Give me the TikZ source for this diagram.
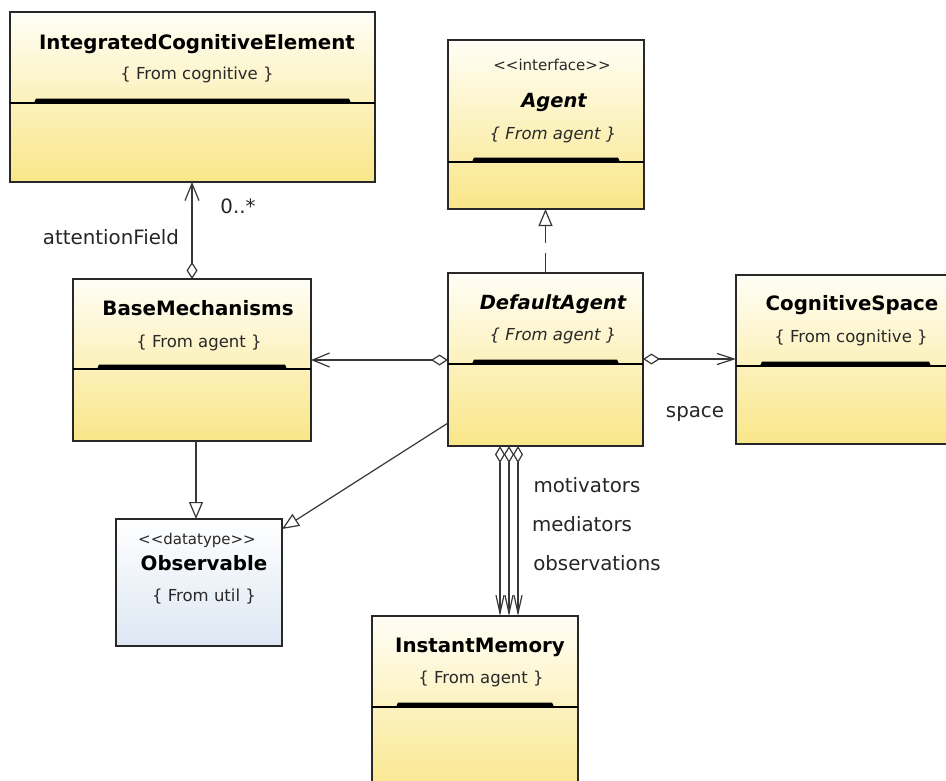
\documentclass[tikz,border=0pt]{standalone}
\usepackage{fontspec}
\newfontfamily\umlfont{DejaVu Sans}
\usetikzlibrary{arrows.meta}

\definecolor{umltop}{RGB}{255,254,246}
\definecolor{umlbot}{RGB}{249,230,136}
\definecolor{obsbot}{RGB}{221,231,243}
\definecolor{boxline}{RGB}{40,40,40}
\definecolor{linkline}{RGB}{55,55,55}
\definecolor{subtext}{RGB}{40,40,40}

% class box: name, left, top, right, bottom, separator y (or none), fill style
\newcommand\umlclass[7]{%
  \node[#7, minimum width={#4pt-#2pt}, minimum height={#5pt-#3pt}] (#1) at (#2,#3) {};
  \if\relax\detokenize{#6}\relax\else
    \fill[black] ({#2+24},#6) -- ({#2+26},{#6-4.5}) -- ({#4-26},{#6-4.5}) -- ({#4-24},#6) -- cycle;
    \draw[sepline] (#1.west |- 0,#6) -- (#1.east |- 0,#6);
  \fi
}

\begin{document}
\begin{tikzpicture}[x=1pt,y=-1pt,
  classbox/.style={draw=boxline,line width=1.4pt,inner sep=0pt,outer sep=0pt,anchor=north west},
  yellowclass/.style={classbox,top color=umltop,bottom color=umlbot},
  blueclass/.style={classbox,top color=white,bottom color=obsbot},
  sepline/.style={line width=2pt,black},
  txt/.style={inner sep=0pt,anchor=center,text height=0.72em,text depth=0pt,yshift=-3.5pt},
  title/.style={txt,text=black,font=\umlfont\bfseries\fontsize{19.8}{22}\selectfont},
  ititle/.style={txt,text=black,font=\umlfont\bfseries\itshape\fontsize{19.5}{22}\selectfont},
  subtitle/.style={txt,text=subtext,font=\umlfont\fontsize{16.5}{19}\selectfont},
  isubtitle/.style={txt,text=subtext,font=\umlfont\itshape\fontsize{16.5}{19}\selectfont},
  stereo/.style={txt,text=subtext,font=\umlfont\fontsize{15}{17}\selectfont},
  lbl/.style={txt,text=black!85,font=\umlfont\fontsize{19.8}{22}\selectfont},
  link/.style={draw=linkline,line width=1.2pt},
  aggr/.style={link,{Diamond[open,fill=white,length=17pt,width=11pt]}-{Straight Barb[length=17pt,width=14pt]}},
  aggrnarrow/.style={link,{Diamond[open,fill=white,length=17pt,width=11pt]}-{Straight Barb[length=17pt,width=11pt]}},
  aggrdown/.style={link,{Diamond[open,fill=white,length=17pt,width=10pt]}-{Straight Barb[length=18pt,width=8pt]}},
  gen/.style={link,-{Triangle[open,fill=white,length=17pt,width=14pt]}},
  realize/.style={gen,dash pattern=on 20pt off 10pt}
]
\useasboundingbox (0,0) rectangle (946,780);
\fill[white] (0,0) rectangle (946,780);

% classes
\umlclass{ice}{10}{12}{375}{182}{103}{yellowclass}
\umlclass{agent}{448}{40}{644}{209}{162}{yellowclass}
\umlclass{da}{448}{273}{643}{446}{364}{yellowclass}
\umlclass{bm}{73}{279}{311}{441}{369}{yellowclass}
\umlclass{cs}{736}{275}{955}{444}{366}{yellowclass}
\umlclass{im}{372}{616}{578}{800}{707}{yellowclass}
\umlclass{obs}{116}{519}{282}{646}{}{blueclass}

% class texts
\node[title] (iceT) at (197,42) {IntegratedCognitiveElement};
\node[subtitle] (iceS) at (197,72) {\{ From cognitive \}};

\node[stereo] (agentK) at (552,63) {<<interface>>};
\node[ititle] (agentT) at (554,100) {Agent};
\node[isubtitle] (agentS) at (553,132) {\{ From agent \}};

\node[ititle] (daT) at (553,302) {DefaultAgent};
\node[isubtitle] (daS) at (553,333) {\{ From agent \}};

\node[title] (bmT) at (198,308) {BaseMechanisms};
\node[subtitle] (bmS) at (199,340) {\{ From agent \}};

\node[title] (csT) at (852,303) {CognitiveSpace};
\node[subtitle] (csS) at (851,335) {\{ From cognitive \}};

\node[stereo] (obsK) at (197,537) {<<datatype>>};
\node[title] (obsT) at (204,563) {Observable};
\node[subtitle] (obsS) at (204,594) {\{ From util \}};

\node[title] (imT) at (480,645) {InstantMemory};
\node[subtitle] (imS) at (481,676) {\{ From agent \}};

% relations
\draw[aggr] (bm.north) -- (ice.south -| bm.north);
\draw[realize] (da.north) -- (agent.south -| da.north);
\draw[aggr] (da.west |- 0,360) -- (bm.east |- 0,360);
\draw[aggrnarrow] (da.east |- 0,359) -- (cs.west |- 0,359);
\draw[gen] ([xshift=4pt]bm.south) -- ([xshift=-3pt]obs.north);
\draw[gen] (da.west |- 0,423) -- ([yshift=-10pt]obs.north east);
\draw[aggrdown] (da.south -| 500,0) -- (im.north -| 500,0);
\draw[aggrdown] (da.south -| 509,0) -- (im.north -| 509,0);
\draw[aggrdown] (da.south -| 518,0) -- (im.north -| 518,0);

% relation labels
\node[lbl] (attF) at (111,237) {attentionField};
\node[lbl] (mult) at (238,206) {0..*};
\node[lbl] (spc) at (695,410) {space};
\node[lbl] (motiv) at (587,485) {motivators};
\node[lbl] (medi) at (582,524) {mediators};
\node[lbl] (obsv) at (597,563) {observations};
\end{tikzpicture}
\end{document}
